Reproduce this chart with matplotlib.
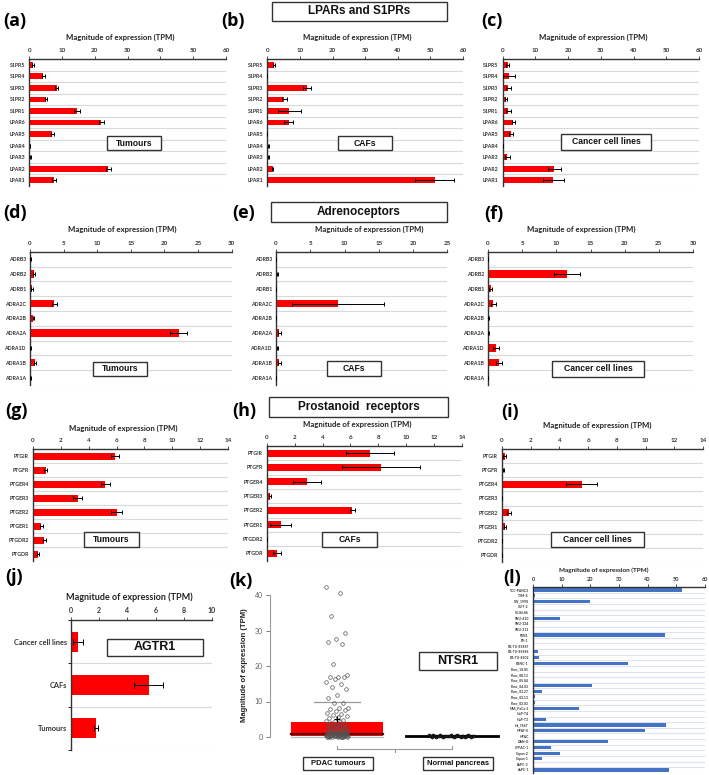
import numpy as np
import matplotlib
matplotlib.use("Agg")
import matplotlib.pyplot as plt
from matplotlib.patches import Rectangle

plt.rcParams['font.family'] = ['Lato', 'DejaVu Sans']

# ---------------- DATA ----------------
lpa_cats = ['S1PR5', 'S1PR4', 'S1PR3', 'S1PR2', 'S1PR1', 'LPAR6', 'LPAR5', 'LPAR4', 'LPAR3', 'LPAR2', 'LPAR1']
a_vals = [1.2, 4.3, 8.3, 5.0, 14.6, 22.0, 7.0, 0.2, 0.3, 24.1, 7.5]
a_errs = [0.3, 0.5, 0.6, 0.3, 1.0, 0.8, 0.5, 0.1, 0.1, 0.8, 0.6]
b_vals = [2.1, 0.0, 12.2, 5.2, 6.7, 6.5, 0.0, 0.3, 0.3, 1.6, 51.3]
b_errs = [0.4, 0.0, 1.2, 0.7, 3.5, 1.5, 0.0, 0.1, 0.1, 0.3, 6.0]
c_vals = [1.5, 2.0, 1.7, 1.1, 1.7, 3.3, 2.6, 0.1, 1.4, 15.8, 15.5]
c_errs = [0.5, 1.8, 0.8, 0.3, 0.7, 0.6, 0.6, 0.05, 0.7, 2.0, 3.2]

adr_cats = ['ADRB3', 'ADRB2', 'ADRB1', 'ADRA2C', 'ADRA2B', 'ADRA2A', 'ADRA1D', 'ADRA1B', 'ADRA1A']
d_vals = [0.1, 0.65, 0.3, 3.6, 0.5, 22.1, 0.1, 0.75, 0.1]
d_errs = [0.05, 0.15, 0.1, 0.4, 0.1, 1.3, 0.05, 0.2, 0.05]
e_vals = [0.0, 0.2, 0.0, 9.1, 0.0, 0.5, 0.2, 0.5, 0.05]
e_errs = [0.0, 0.1, 0.0, 6.7, 0.0, 0.2, 0.1, 0.2, 0.02]
f_vals = [0.0, 11.5, 0.4, 0.8, 0.1, 0.1, 1.2, 1.6, 0.05]
f_errs = [0.0, 1.9, 0.2, 0.3, 0.05, 0.05, 0.4, 0.4, 0.02]

pros_cats = ['PTGIR', 'PTGFR', 'PTGER4', 'PTGER3', 'PTGER2', 'PTGER1', 'PTGDR2', 'PTGDR']
g_vals = [5.9, 0.9, 5.2, 3.2, 6.0, 0.6, 0.8, 0.35]
g_errs = [0.3, 0.1, 0.3, 0.3, 0.4, 0.1, 0.1, 0.05]
h_vals = [7.4, 8.2, 2.9, 0.25, 6.15, 1.0, 0.0, 0.75]
h_errs = [1.7, 2.8, 1.0, 0.05, 0.15, 0.75, 0.0, 0.3]
i_vals = [0.2, 0.1, 5.55, 0.0, 0.5, 0.2, 0.02, 0.0]
i_errs = [0.1, 0.05, 1.1, 0.0, 0.15, 0.05, 0.0, 0.0]

j_cats = ['Cancer cell lines', 'CAFs', 'Tumours']
j_vals = [0.5, 5.5, 1.8]
j_errs = [0.35, 1.0, 0.15]

k_groups = ['PDAC tumours', 'Normal pancreas']
pdac_points = [42.3, 40.6, 34.1, 29.2, 27.6, 26.9, 26.1, 20.6, 17.5, 17.0, 16.9, 16.8, 16.3,
               15.6, 15.0, 14.2, 13.6, 11.9, 11.0, 9.7, 9.5, 8.3, 8.1, 7.9, 7.5, 7.2, 6.9, 6.6,
               6.2, 6.0, 5.6, 5.3, 4.9, 4.6, 4.4, 4.1, 3.9, 3.7, 3.5, 3.3, 3.2, 3.0, 2.9, 2.8,
               2.6, 2.5, 2.4, 2.2, 2.1, 2.0, 1.9, 1.8, 1.7, 1.6, 1.5, 1.4, 1.3, 1.25, 1.2, 1.1,
               1.05, 1.0, 0.95, 0.9, 0.85, 0.8, 0.75, 0.7, 0.65, 0.6, 0.55, 0.5, 0.45, 0.4,
               0.35, 0.3, 0.3, 0.25, 0.2, 0.2, 0.15, 0.1, 0.1, 0.05, 0.05, 0.0, 0.0, 0.0,
               0.9, 0.7, 0.6, 0.5, 0.4, 0.3, 0.2, 0.1, 0.8, 0.6, 0.4, 0.2]
pdac_q1, pdac_median, pdac_q3, pdac_whisker_hi, pdac_whisker_lo, pdac_mean = 0.4, 0.9, 4.1, 9.8, 0.0, 5.0
normal_points = [0.6, 0.55, 0.5, 0.5, 0.45, 0.45, 0.4, 0.4, 0.4, 0.35, 0.35, 0.35, 0.3, 0.3,
                 0.3, 0.3, 0.25, 0.25, 0.25, 0.2, 0.2, 0.2, 0.2, 0.15, 0.15, 0.15, 0.1, 0.1,
                 0.1, 0.05, 0.05, 0.0, 0.0]
normal_median = 0.3

l_cats = ['TCC-PANC2', 'T3M-4', 'SW_1990', 'SUIT-2', 'SU.86.86', 'SNU-410', 'SNU-324', 'SNU-213',
          'PSN1', 'PK-1', 'PA-TU-8988T', 'PA-TU-8988S', 'PA-TU-8902', 'PANC-1', 'Panc_10.05',
          'Panc_08.13', 'Panc_05.04', 'Panc_04.03', 'Panc_03.27', 'Panc_02.13', 'Panc_02.03',
          'MIA_PaCa-2', 'HuP-T4', 'HuP-T3', 'Hs_766T', 'HPAF-II', 'HPAC', 'DAN-G', 'CFPAC-1',
          'Capan-2', 'Capan-1', 'BxPC-3', 'AsPC-1']
l_vals = [52.0, 0.8, 20.0, 0.5, 0.0, 9.3, 0.0, 0.0, 46.0, 0.5, 0.0, 1.7, 2.1, 33.2, 0.3,
          0.4, 0.3, 20.7, 3.1, 0.8, 0.8, 16.0, 0.0, 4.4, 46.3, 39.0, 0.0, 26.3, 6.2, 9.3,
          3.1, 0.0, 47.6]

AXIS_TITLE = 'Magnitude of expression (TPM)'

# ---------------- LAYOUT HELPERS ----------------
W, H = 709, 775
fig = plt.figure(figsize=(W / 100, H / 100), dpi=100)
fig.patch.set_facecolor('white')


def px_axes(x0, y0, x1, y1):
    return fig.add_axes([x0 / W, 1 - y1 / H, (x1 - x0) / W, (y1 - y0) / H])


def ftext(x, y, s, **kw):
    kw.setdefault('ha', 'center')
    kw.setdefault('va', 'center')
    return fig.text(x / W, 1 - y / H, s, **kw)


def boxed(x0, y0, x1, y1, s, fs, lw=1.0):
    fig.add_artist(Rectangle((x0 / W, 1 - y1 / H), (x1 - x0) / W, (y1 - y0) / H,
                             transform=fig.transFigure, facecolor='white',
                             edgecolor='#333333', lw=lw, zorder=5))
    t = ftext((x0 + x1) / 2, (y0 + y1) / 2, s, fontsize=fs, fontweight='bold',
              family=['Liberation Sans', 'DejaVu Sans'], color='#111111')
    t.set_zorder(6)


def letter(x, y, s):
    ftext(x, y, s, fontsize=13, fontweight='bold', ha='left', family=['Open Sans', 'DejaVu Sans'])


def bar_panel(box, cats, vals, errs, xmax, step, color='red', lab_fs=3.8, tick_fs=4.5,
              height=0.5, cap=1.5, grid='#D9D9D9', ytick_len=0):
    ax = px_axes(*box)
    y = np.arange(len(cats))
    ax.barh(y, vals, height=height, color=color, zorder=2,
            xerr=errs if errs is not None else None,
            error_kw=dict(ecolor='black', elinewidth=0.7, capsize=cap, capthick=0.7, zorder=3))
    ax.set_ylim(len(cats) - 0.5, -0.5)
    ax.set_xlim(0, xmax)
    for b in np.arange(len(cats)) + 0.5:
        ax.axhline(b, color=grid, lw=0.8, zorder=0)
    ax.xaxis.tick_top()
    ax.set_xticks(np.arange(0, xmax + step / 2, step))
    ax.tick_params(axis='x', labelsize=tick_fs, length=2, width=0.6, pad=2, colors='#333333')
    for lbl in ax.get_xticklabels():
        lbl.set_fontweight('bold')
    ax.set_yticks(y)
    ax.set_yticklabels(cats, fontsize=lab_fs, fontweight='bold', color='#333333')
    ax.tick_params(axis='y', length=0, pad=3)
    if ytick_len:
        ax.set_yticks(np.arange(len(cats) + 1) - 0.5, minor=True)
        ax.tick_params(axis='y', which='minor', length=ytick_len, width=0.6)
    for s in ['right', 'bottom']:
        ax.spines[s].set_visible(False)
    for s in ['top', 'left']:
        ax.spines[s].set_color('#333333')
        ax.spines[s].set_linewidth(1.0)
    ax.set_facecolor('none')
    return ax


# ---------------- ROW 1: LPARs and S1PRs ----------------
boxed(272, 2, 447, 21, 'LPARs and S1PRs', 8.5)
bar_panel((29.3, 59, 226, 186), lpa_cats, a_vals, a_errs, 60, 10)
bar_panel((267.3, 59, 463, 186), lpa_cats, b_vals, b_errs, 60, 10)
bar_panel((502.7, 59, 699, 186), lpa_cats, c_vals, c_errs, 60, 10)
for cx in (120, 357, 593):
    ftext(cx, 37, AXIS_TITLE, fontsize=5.6, fontweight='bold', color='#222222')
letter(3, 21, '(a)')
letter(221, 21, '(b)')
letter(481, 21, '(c)')
boxed(107, 136, 161, 150, 'Tumours', 6.2)
boxed(338, 136, 392, 150, 'CAFs', 6.2)
boxed(561, 134, 651, 150, 'Cancer cell lines', 6.2)

# ---------------- ROW 2: Adrenoceptors ----------------
boxed(271, 202, 447, 222, 'Adrenoceptors', 8.5)
bar_panel((30, 251.7, 231.7, 385), adr_cats, d_vals, d_errs, 30, 5)
bar_panel((276, 251.7, 447.3, 385), adr_cats, e_vals, e_errs, 25, 5)
bar_panel((488, 251.7, 693, 385), adr_cats, f_vals, f_errs, 30, 5)
for cx in (122, 369, 581):
    ftext(cx, 229, AXIS_TITLE, fontsize=5.6, fontweight='bold', color='#222222')
letter(3, 213, '(d)')
letter(232, 213, '(e)')
letter(484, 214, '(f)')
boxed(93, 362, 147, 376, 'Tumours', 6.2)
boxed(327, 361, 381, 376, 'CAFs', 6.2)
boxed(552, 361, 644, 377, 'Cancer cell lines', 6.2)

# ---------------- ROW 3: Prostanoid receptors ----------------
boxed(269, 397, 448, 417, 'Prostanoid  receptors', 8.5)
bar_panel((33, 449, 228, 561), pros_cats, g_vals, g_errs, 14, 2)
bar_panel((266.7, 446, 462, 560.5), pros_cats, h_vals, h_errs, 14, 2)
bar_panel((502, 449, 703, 562), pros_cats, i_vals, i_errs, 14, 2)
ftext(123, 428, AXIS_TITLE, fontsize=5.6, fontweight='bold', color='#222222')
ftext(357, 424, AXIS_TITLE, fontsize=5.6, fontweight='bold', color='#222222')
ftext(597, 425, AXIS_TITLE, fontsize=5.6, fontweight='bold', color='#222222')
letter(5, 411, '(g)')
letter(232, 411, '(h)')
letter(501, 412, '(i)')
boxed(84, 532, 139, 547, 'Tumours', 6.2)
boxed(322, 532, 377, 547, 'CAFs', 6.2)
boxed(551, 532, 644, 547, 'Cancer cell lines', 6.2)

# ---------------- (j) AGTR1 ----------------
axj = bar_panel((71, 620, 212, 750), j_cats, j_vals, j_errs, 10, 2, lab_fs=5.3, tick_fs=5,
                height=0.46, cap=2, ytick_len=2.5)
ftext(129, 597, AXIS_TITLE, fontsize=6.5, fontweight='bold', color='#222222')
letter(5, 577, '(j)')
boxed(107, 639, 203, 656, 'AGTR1', 9)

# ---------------- (k) NTSR1 ----------------
axk = px_axes(270, 580, 505, 745)
axk.set_xlim(1 - 67 / 115, 2 + 53 / 115)
axk.set_ylim(-(745 - 737) / 3.55, (737 - 580) / 3.55)
# PDAC box
axk.add_patch(Rectangle((1 - 0.4, pdac_q1), 0.8, pdac_q3 - pdac_q1, facecolor='red',
                        edgecolor='none', zorder=2))
axk.plot([1 - 0.4, 1 + 0.4], [pdac_median] * 2, color='#5a0000', lw=1.6, zorder=3)
axk.plot([1 - 0.2, 1 + 0.2], [pdac_whisker_hi] * 2, color='#999999', lw=0.9, zorder=2)
axk.plot([1 - 0.4, 1 + 0.4], [pdac_whisker_lo] * 2, color='#bbbbbb', lw=0.9, zorder=1)
n = len(pdac_points)
jit = ((np.arange(n) * 0.6180339) % 1.0 - 0.5) * 0.2
axk.plot(1 + jit, pdac_points, 'o', ms=2.6, mfc='none', mec='#555555', mew=0.5, zorder=4)
axk.plot([1], [pdac_mean], '+', color='black', ms=4, mew=0.9, zorder=5)
# Normal pancreas
axk.plot([2 - 0.4, 2 + 0.4], [normal_median] * 2, color='black', lw=2.0, zorder=2)
m = len(normal_points)
jit2 = ((np.arange(m) * 0.6180339) % 1.0 - 0.5) * 0.4
axk.plot(2 + jit2, normal_points, 'o', ms=2.2, mfc='#222222', mec='black', mew=0.4, zorder=3)
for s in ['top', 'right', 'bottom']:
    axk.spines[s].set_visible(False)
axk.spines['left'].set_bounds(0, 40)
axk.spines['left'].set_color('#999999')
axk.spines['left'].set_linewidth(0.8)
axk.set_yticks([0, 10, 20, 30, 40])
axk.tick_params(axis='y', labelsize=5, colors='#666666', length=3, width=0.6, pad=2)
axk.set_xticks([])
axk.set_facecolor('none')
ftext(245, 665, AXIS_TITLE, fontsize=5.5, fontweight='bold', rotation=90, color='#222222',
      family=['Liberation Sans', 'DejaVu Sans'])
# bracket
tr = axk.transData
yb = -(749 - 737) / 3.55
yt = -(746 - 737) / 3.55
axk.plot([1, 1, 2, 2], [yt, yb, yb, yt], color='#999999', lw=0.8, clip_on=False)
axk.plot([1.5, 1.5], [yb, -(752 - 737) / 3.55], color='#999999', lw=0.8, clip_on=False)
letter(229, 581, '(k)')
boxed(303, 757, 373, 770, k_groups[0], 5.5)
boxed(423, 757, 493, 770, k_groups[1], 5.5)
boxed(419, 652, 497, 670, 'NTSR1', 9)

# ---------------- (l) cell lines ----------------
axl = bar_panel((533, 587.2, 705, 772.8), l_cats, l_vals, None, 60, 10, color='#4472C4',
                lab_fs=2.4, tick_fs=4, height=0.55, grid='#DCE3EF')
axl.tick_params(axis='x', pad=1.5)
ftext(604, 570, AXIS_TITLE, fontsize=4.6, fontweight='bold', color='#222222')
letter(503, 578, '(l)')

fig.savefig('out.png', dpi=100, facecolor='white')
